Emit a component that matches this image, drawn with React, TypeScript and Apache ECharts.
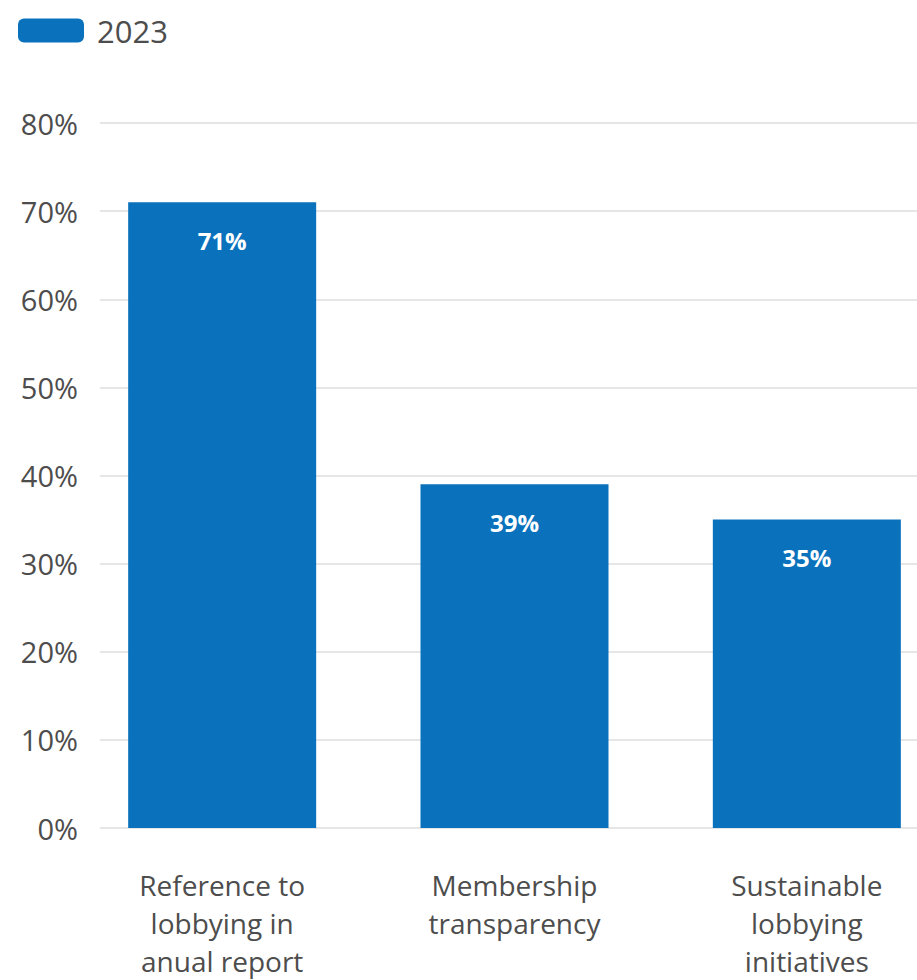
import React, { useEffect, useRef } from "react";
import * as echarts from "echarts";

const categories = [
  "Reference to\nlobbying in\nanual report",
  "Membership\ntransparency",
  "Sustainable\nlobbying\ninitiatives",
];
const values2023 = [71, 39, 35];
const seriesName = "2023";
const yMin = 0;
const yMax = 80;
const yInterval = 10;

const FONT = "'Open Sans', Lato, sans-serif";
const BLUE = "#0a72bd";
const TEXT = "#4d4d4d";

export default function App() {
  const ref = useRef<HTMLDivElement>(null);
  useEffect(() => {
    if (!ref.current) return;
    const chart = echarts.init(ref.current, null, { renderer: "svg" });
    chart.setOption({
      animation: false,
      backgroundColor: "#ffffff",
      textStyle: { fontFamily: FONT },
      legend: {
        left: 18,
        top: 15,
        padding: 0,
        itemWidth: 66,
        itemHeight: 24,
        itemGap: 10,
        textStyle: { fontFamily: FONT, fontSize: 31, color: TEXT, padding: [0, 0, 0, 8] },
        data: [{ name: seriesName, itemStyle: { color: BLUE, borderRadius: 1 } }],
      },
      grid: [
        { left: 100, top: 123, width: 860, height: 705, outerBoundsMode: "none" },
        { left: 76, top: 123, width: 877, height: 705, outerBoundsMode: "none" },
      ],
      xAxis: [
        { type: "category", gridIndex: 0, data: categories, show: false },
        {
          type: "category",
          gridIndex: 1,
          data: categories,
          axisLine: { show: false },
          axisTick: { show: false },
          axisLabel: {
            interval: 0,
            margin: 38,
            fontFamily: FONT,
            fontSize: 28,
            lineHeight: 38,
            color: TEXT,
          },
        },
      ],
      yAxis: [
        {
          type: "value",
          gridIndex: 0,
          min: yMin,
          max: yMax,
          interval: yInterval,
          axisLine: { show: false },
          axisTick: { show: false },
          splitLine: { lineStyle: { color: "#dedede", width: 1.5 } },
          axisLabel: {
            margin: 22,
            fontFamily: FONT,
            fontSize: 29,
            color: TEXT,
            formatter: "{value}%",
          },
        },
        {
          type: "value",
          gridIndex: 1,
          min: yMin,
          max: yMax,
          interval: yInterval,
          show: false,
          splitLine: { show: false },
        },
      ],
      series: [
        {
          name: seriesName,
          type: "bar",
          xAxisIndex: 1,
          yAxisIndex: 1,
          data: values2023,
          barWidth: 188,
          itemStyle: { color: BLUE },
          label: {
            show: true,
            position: "insideTop",
            distance: 26,
            formatter: "{c}%",
            color: "#ffffff",
            fontFamily: FONT,
            fontWeight: "bold",
            fontSize: 24,
          },
        },
      ],
    });
    return () => chart.dispose();
  }, []);
  return (
    <div
      style={{
        position: "fixed",
        left: 0,
        top: 0,
        width: 917,
        height: 980,
        overflow: "hidden",
        background: "#fff",
      }}
    >
      <div ref={ref} style={{ width: 960, height: 980 }} />
    </div>
  );
}
